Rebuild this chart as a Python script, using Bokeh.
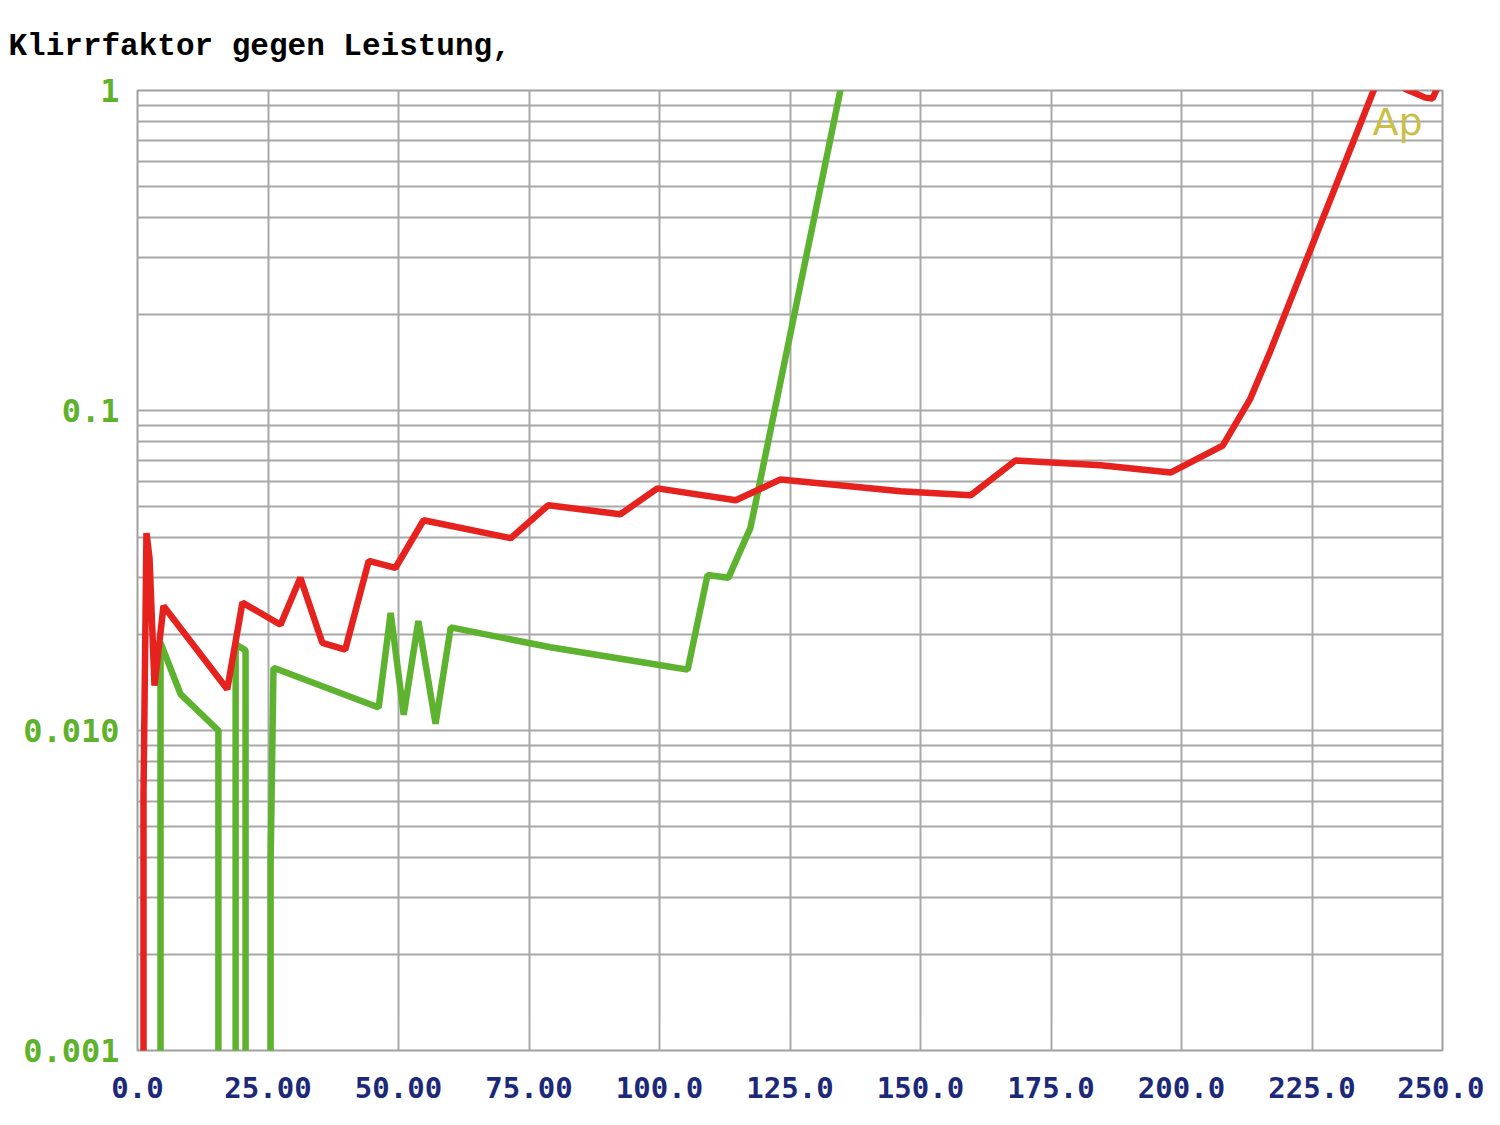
from bokeh.plotting import figure
from bokeh.models import FixedTicker, Label, Range1d
from bokeh.embed import file_html
from bokeh.resources import INLINE

# Leistung (x) and Klirrfaktor (y); 0.0005 = below the chart floor
red_x = [1.15, 1.15, 1.72, 2.3, 3.26, 4.98, 17.2, 20.1, 27.4, 31.2, 35.4, 39.8, 44.3, 49.4, 54.8,
         71.5, 78.7, 92.5, 99.6, 114.6, 123.2, 146.2, 159.6, 168.2, 184.5, 197.9, 207.9, 213.2,
         217.0, 224.7, 236.8, 240.0, 242.9, 246.7, 248.1, 248.9, 249.6]
red_y = [0.0005, 0.00634, 0.0414, 0.0346, 0.0138, 0.0245, 0.01345, 0.0251, 0.0214, 0.030, 0.0188,
         0.0179, 0.0339, 0.0322, 0.0454, 0.0399, 0.0506, 0.0474, 0.0571, 0.0524, 0.0609, 0.0559,
         0.0543, 0.0698, 0.0674, 0.064, 0.0777, 0.109, 0.153, 0.318, 1.0, 1.24, 1.01, 0.95,
         0.944, 1.01, 1.15]

green_x = [4.41, 4.41, 8.24, 15.5, 15.5, 18.8, 18.8, 20.7, 20.7, 25.5, 25.5, 26.05, 46.2, 48.5,
           51.0, 53.8, 57.1, 60.0, 79.1, 100.2, 105.4, 109.2, 113.2, 117.4, 118.4, 134.7]
green_y = [0.0005, 0.0188, 0.0130, 0.0100, 0.0005, 0.0005, 0.0186, 0.0178, 0.0005, 0.0005, 0.00384,
           0.0157, 0.0118, 0.0233, 0.0112, 0.0220, 0.0105, 0.0210, 0.0182, 0.0160, 0.0155,
           0.0306, 0.0300, 0.0429, 0.0513, 1.01]

x_ticks = [0, 25, 50, 75, 100, 125, 150, 175, 200, 225, 250]
x_labels = ["0.0", "25.00", "50.00", "75.00", "100.0", "125.0", "150.0", "175.0", "200.0", "225.0", "250.0"]
y_ticks = [0.001, 0.01, 0.1, 1]
y_labels = ["0.001", "0.010", "0.1", "1"]
y_minor = [m * 10.0 ** e for e in (-3, -2, -1) for m in range(2, 10)]

p = figure(output_backend="svg", toolbar_location=None, y_axis_type="log",
           frame_width=1305, frame_height=960,
           min_border_left=137, min_border_right=42, min_border_top=90, min_border_bottom=59,
           x_range=Range1d(0, 250), y_range=Range1d(0.001, 1),
           title="Klirrfaktor gegen Leistung,")
p.background_fill_color = "white"
p.border_fill_color = "white"
p.outline_line_color = "#a0a0a0"
p.outline_line_width = 2

p.title.text_font = "Liberation Mono"
p.title.text_font_style = "bold"
p.title.text_font_size = "31px"
p.title.text_color = "black"
p.title.align = "left"
p.title.vertical_align = "top"
p.title.offset = -129
p.title.standoff = 50

p.xaxis.ticker = FixedTicker(ticks=x_ticks)
p.xaxis.major_label_overrides = {t: l for t, l in zip(x_ticks, x_labels)}
p.yaxis.ticker = FixedTicker(ticks=y_ticks, minor_ticks=y_minor)
p.yaxis.major_label_overrides = {t: l for t, l in zip(y_ticks, y_labels)}

for ax in (p.xaxis, p.yaxis):
    ax.axis_line_color = None
    ax.major_tick_line_color = None
    ax.minor_tick_line_color = None
    ax.major_label_text_font = "DejaVu Sans Mono"
    ax.major_label_text_font_style = "bold"
p.xaxis.major_label_text_font_size = "29px"
p.xaxis.major_label_text_color = "#1c2878"
p.xaxis.major_label_standoff = 20
p.yaxis.major_label_text_font_size = "32px"
p.yaxis.major_label_text_color = "#5fb22c"
p.yaxis.major_label_standoff = 12

p.xgrid.grid_line_color = "#a8a8a8"
p.xgrid.grid_line_width = 2
p.ygrid.grid_line_color = "#a8a8a8"
p.ygrid.grid_line_width = 2
p.ygrid.minor_grid_line_color = "#a8a8a8"
p.ygrid.minor_grid_line_width = 2

p.add_layout(Label(x=236.6, y=0.80, text="Ap", text_font="DejaVu Sans",
                   text_font_size="38px", text_color="#c8c048", text_baseline="alphabetic"))

p.line(green_x, green_y, line_color="#5db330", line_width=6.5)
p.line(red_x, red_y, line_color="#e5221e", line_width=6.5)

open("out.html", "w").write(file_html(p, INLINE))
